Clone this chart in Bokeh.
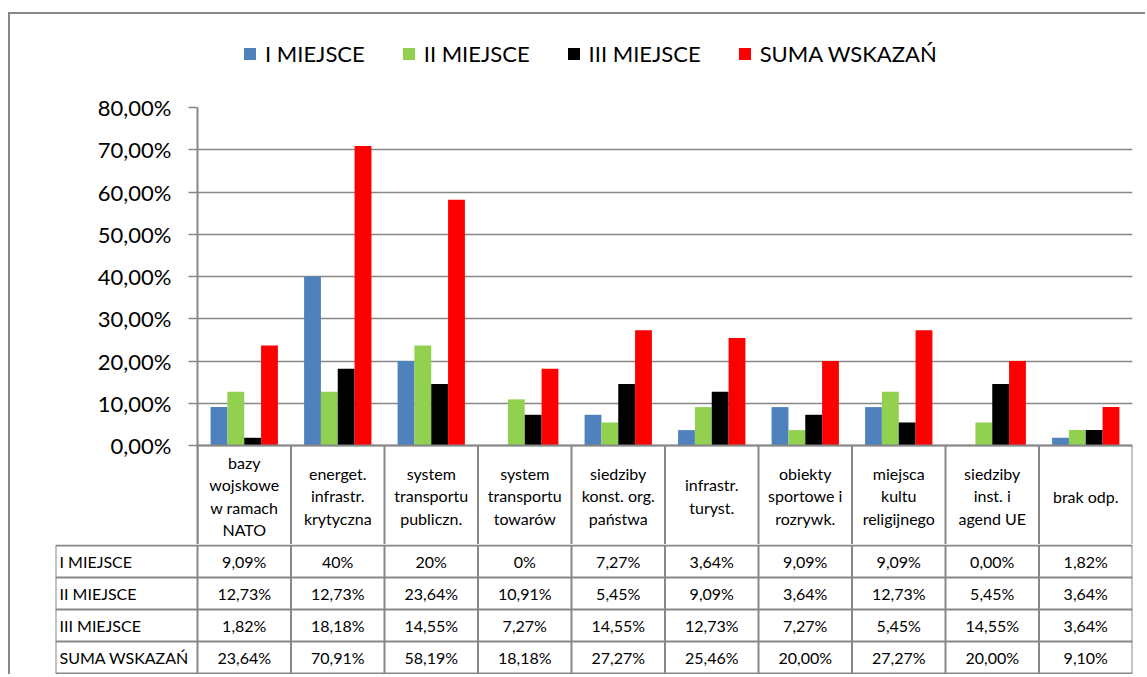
from bokeh.plotting import figure
from bokeh.layouts import column
from bokeh.models import (Range1d, ColumnDataSource, Legend, LegendItem,
                          CustomJSTickFormatter, FixedTicker)
from bokeh.core.properties import value
from bokeh.embed import file_html
from bokeh.resources import INLINE

# ---------------- data ----------------
categories = [
    "bazy\nwojskowe\nw ramach\nNATO",
    "energet.\ninfrastr.\nkrytyczna",
    "system\ntransportu\npubliczn.",
    "system\ntransportu\ntowarów",
    "siedziby\nkonst. org.\npaństwa",
    "infrastr.\nturyst.",
    "obiekty\nsportowe i\nrozrywk.",
    "miejsca\nkultu\nreligijnego",
    "siedziby\ninst. i\nagend UE",
    "brak odp.",
]
series_names = ["I MIEJSCE", "II MIEJSCE", "III MIEJSCE", "SUMA WSKAZAŃ"]
miejsce_1 = [9.09, 40.0, 20.0, 0.0, 7.27, 3.64, 9.09, 9.09, 0.0, 1.82]
miejsce_2 = [12.73, 12.73, 23.64, 10.91, 5.45, 9.09, 3.64, 12.73, 5.45, 3.64]
miejsce_3 = [1.82, 18.18, 14.55, 7.27, 14.55, 12.73, 7.27, 5.45, 14.55, 3.64]
suma = [23.64, 70.91, 58.19, 18.18, 27.27, 25.46, 20.00, 27.27, 20.00, 9.10]

# table cell texts, as printed in the data table
table_1 = ["9,09%", "40%", "20%", "0%", "7,27%", "3,64%", "9,09%", "9,09%", "0,00%", "1,82%"]
table_2 = ["12,73%", "12,73%", "23,64%", "10,91%", "5,45%", "9,09%", "3,64%", "12,73%", "5,45%", "3,64%"]
table_3 = ["1,82%", "18,18%", "14,55%", "7,27%", "14,55%", "12,73%", "7,27%", "5,45%", "14,55%", "3,64%"]
table_s = ["23,64%", "70,91%", "58,19%", "18,18%", "27,27%", "25,46%", "20,00%", "27,27%", "20,00%", "9,10%"]

y_ticks = [0, 10, 20, 30, 40, 50, 60, 70, 80]

colors = ["#4F81BD", "#92D050", "#000000", "#FF0000"]
FONT = "Lato"
GRID = "#878787"

n = len(categories)
xs = list(range(n))
boundaries = [i - 0.5 for i in range(n + 1)]

frame_left_w = 187
frame_right_w = 13
fig_w = 1135
frame_w = fig_w - frame_left_w - frame_right_w
cat_px = frame_w / n

plot_h = 338              # pixel height of the 0..80 % value area
px_per_pct = plot_h / 80
header_h = 99             # pixel height of the category header row
row_h = 32
n_rows = 4

# ---------------- legend strip ----------------
top_h = 72
lg = figure(width=fig_w, height=top_h, output_backend="svg", toolbar_location=None,
            x_range=Range1d(-200, -190), y_range=Range1d(0, 1),
            x_axis_location=None, y_axis_location=None,
            min_border_left=0, min_border_right=0, min_border_top=0, min_border_bottom=0)
lg.outline_line_color = None
lg.xgrid.grid_line_color = None
lg.ygrid.grid_line_color = None

# ---------------- chart (with the category header row below 0) ----------------
y_bottom = -header_h / px_per_pct
p = figure(width=fig_w, height=21 + plot_h + header_h, output_backend="svg",
           toolbar_location=None,
           x_range=Range1d(-0.5, n - 0.5), y_range=Range1d(y_bottom, 80),
           x_axis_location=None, min_border_left=frame_left_w,
           min_border_right=frame_right_w, min_border_top=21, min_border_bottom=0)
p.outline_line_color = None
p.xgrid.grid_line_color = None
p.ygrid.grid_line_color = GRID
p.ygrid.grid_line_width = 1.5

p.yaxis.ticker = FixedTicker(ticks=y_ticks)
p.yaxis.formatter = CustomJSTickFormatter(code="return tick.toFixed(2).replace('.', ',') + '%';")
p.yaxis.axis_line_color = GRID
p.yaxis.axis_line_width = 2
p.yaxis.major_tick_line_color = GRID
p.yaxis.major_tick_line_width = 1.5
p.yaxis.major_tick_out = 9
p.yaxis.major_tick_in = 0
p.yaxis.minor_tick_line_color = None
p.yaxis.major_label_text_font = FONT
p.yaxis.major_label_text_font_size = "22px"
p.yaxis.major_label_text_color = "#000000"
p.yaxis.major_label_standoff = 17

bar_w = 0.18
offsets = [-1.5 * bar_w, -0.5 * bar_w, 0.5 * bar_w, 1.5 * bar_w]
all_vals = [miejsce_1, miejsce_2, miejsce_3, suma]
items = []
for name, vals, col, off in zip(series_names, all_vals, colors, offsets):
    src = ColumnDataSource(dict(x=[xi + off for xi in xs], top=vals))
    p.vbar(x="x", top="top", bottom=0, width=bar_w, source=src,
           fill_color=col, line_color=None)
    # same series in the legend strip (out of its view), used for the legend swatch
    r = lg.vbar(x="x", top="top", bottom=0, width=bar_w, source=src,
                fill_color=col, line_color=None)
    items.append(LegendItem(label=name, renderers=[r]))

legend = Legend(items=items, orientation="horizontal", location=(232, 19),
                glyph_width=15, glyph_height=15, label_standoff=8, spacing=36,
                padding=0, margin=0, border_line_color=None,
                background_fill_alpha=0, label_text_font=FONT,
                label_text_font_size="22px", label_text_color="#000000",
                label_height=15)
lg.add_layout(legend)

# header row lines: baseline and column separators
hx0 = [-0.5] + boundaries
hx1 = [n - 0.5] + boundaries
hy0 = [0] + [0] * len(boundaries)
hy1 = [0] + [y_bottom] * len(boundaries)
p.segment(x0=hx0, y0=hy0, x1=hx1, y1=hy1, line_color=GRID, line_width=2)

# header texts
p.text(x=xs, y=[-(header_h / 2 + 1) / px_per_pct] * n, text=categories,
       text_align="center", text_baseline="middle", text_font=value(FONT),
       text_font_size="16px", text_line_height=1.19, text_color="#000000")

# ---------------- data table rows ----------------
label_col_px = 142
t_left_w = frame_left_w - label_col_px
x0 = -0.5 - label_col_px / cat_px
t_bottom = n_rows * row_h

t = figure(width=fig_w, height=t_bottom + 2, output_backend="svg", toolbar_location=None,
           x_range=Range1d(x0, n - 0.5), y_range=Range1d(-(t_bottom + 1), 1),
           x_axis_location=None, y_axis_location=None,
           min_border_left=t_left_w, min_border_right=frame_right_w,
           min_border_top=0, min_border_bottom=0)
t.outline_line_color = None
t.xgrid.grid_line_color = None
t.ygrid.grid_line_color = None

for fig in (lg, p, t):
    if "frame_align" in fig.properties():
        fig.frame_align = False

seg_x0, seg_y0, seg_x1, seg_y1 = [], [], [], []
for b in [x0] + boundaries:
    seg_x0.append(b); seg_x1.append(b)
    seg_y0.append(0); seg_y1.append(-t_bottom)
for k in range(n_rows + 1):
    yy = -k * row_h
    seg_x0.append(x0); seg_x1.append(n - 0.5); seg_y0.append(yy); seg_y1.append(yy)
t.segment(x0=seg_x0, y0=seg_y0, x1=seg_x1, y1=seg_y1, line_color=GRID, line_width=2)

rows = [table_1, table_2, table_3, table_s]
for k, (name, cells) in enumerate(zip(series_names, rows)):
    yc = -(k * row_h + row_h / 2)
    t.text(x=[x0 + 4 / cat_px], y=[yc], text=[name], text_align="left",
           text_baseline="middle", text_font=value(FONT), text_font_size="16px",
           text_color="#000000")
    t.text(x=xs, y=[yc] * n, text=cells, text_align="center",
           text_baseline="middle", text_font=value(FONT), text_font_size="16px",
           text_color="#000000")

layout = column(lg, p, t, spacing=0,
                styles={"margin-left": "8px", "margin-top": "12px",
                        "border-top": "2px solid #878787",
                        "border-left": "2px solid #878787"})

open("out.html", "w").write(file_html(layout, INLINE))
